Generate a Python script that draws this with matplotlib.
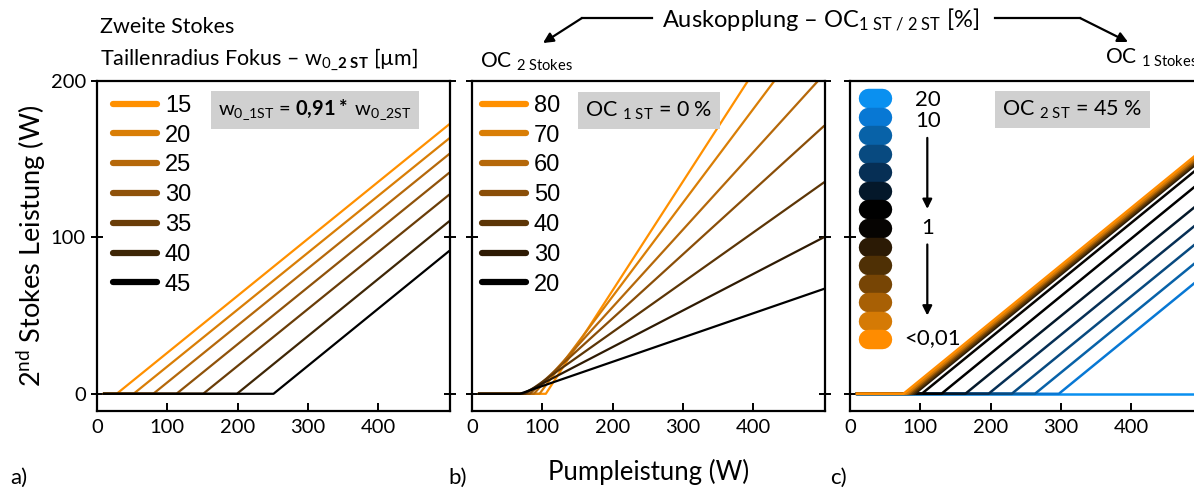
import matplotlib.pyplot as plt
from matplotlib.lines import Line2D
from matplotlib.patches import FancyArrowPatch

plt.rcParams['font.family'] = ['Lato', 'DejaVu Sans']
plt.rcParams['mathtext.fontset'] = 'custom'
plt.rcParams['mathtext.rm'] = 'Lato'
plt.rcParams['mathtext.it'] = 'Lato:italic'
plt.rcParams['mathtext.bf'] = 'Lato:bold'

# a) Taillenradius 2. Stokes [um]
w0_labels = ['15', '20', '25', '30', '35', '40', '45']
w0_colors = ['#ff9000', '#d97e06', '#b5680a', '#8f520a', '#6a3d08', '#3e2606', '#000000']
w0_threshold = [28, 52, 80, 113, 151, 199, 251]
w0_p500 = [172, 163, 153, 141, 127, 110, 91]

# b) OC 2 Stokes [%]
oc2_labels = ['80', '70', '60', '50', '40', '30', '20']
oc2_colors = ['#ff9000', '#d97e06', '#b5680a', '#8a4e08', '#5c3506', '#2e1a03', '#000000']
oc2_threshold = [105, 96, 88, 82, 76, 72, 68]
oc2_p500 = [275, 242, 204, 171, 135, 100, 67]

# c) OC 1 Stokes [%], 20 -> <0,01
oc1_colors = ['#0a90f0', '#0878d4', '#0862a8', '#084a80', '#062f55', '#04182a', '#000000',
              '#060402', '#2b1a05', '#4f3005', '#774505', '#a86005', '#d57a05', '#ff8c00']
oc1_threshold = [500, 297, 263, 230, 197, 164, 130, 102, 92, 89, 86, 83, 80, 76]
oc1_p500 = [0, 74.5, 87, 99, 111, 123, 136, 146, 149.7, 150.8, 151.9, 153, 154.1, 155.6]

x_start = 10

W, H = 1194, 490
fig = plt.figure(figsize=(W / 100, H / 100), dpi=100)


def px(x, y):
    return x / W, 1 - y / H


def make_axes(left_px):
    ax = fig.add_axes([left_px / W, 79 / H, 353 / W, 330 / H])
    ax.set_xlim(0, 502)
    ax.set_ylim(-11, 200)
    ax.set_xticks([0, 100, 200, 300, 400])
    ax.set_yticks([0, 100, 200])
    for s in ax.spines.values():
        s.set_linewidth(1.6)
    ax.tick_params(axis='x', direction='in', length=6, width=1.4, labelsize=14.5, pad=6)
    ax.tick_params(axis='y', direction='inout', length=9, width=1.4, labelsize=14.5, right=True)
    return ax


def style_legend(leg):
    for line in leg.get_lines():
        line.set_linewidth(4.5)
        line.set_solid_capstyle('round')


# ---- a)
ax1 = make_axes(97)
for lab, col, th, p in zip(w0_labels, w0_colors, w0_threshold, w0_p500):
    ax1.plot([x_start, th, 500], [0, 0, p], color=col, lw=1.6, label=lab)
leg = ax1.legend(loc='upper left', bbox_to_anchor=(0.045, 0.958), frameon=False,
                 prop={'family': 'Liberation Sans', 'size': 17}, handlelength=1.85,
                 handletextpad=0.35, labelspacing=0.33, borderaxespad=0, borderpad=0)
style_legend(leg)
ax1.text(0.618, 0.911, r'w$_{\mathregular{0\_1ST}}$ = $\mathbf{0{,}91*}$ w$_{\mathregular{0\_2ST}}$',
         transform=ax1.transAxes, ha='center', va='center', fontsize=14.5,
         bbox=dict(facecolor='#d0d0d0', edgecolor='none', boxstyle='square,pad=0.35'))
ax1.set_ylabel(r'2$^{\mathregular{nd}}$ Stokes Leistung (W)', fontsize=19.5, labelpad=2)

# ---- b)
ax2 = make_axes(472)
for lab, col, th, p in zip(oc2_labels, oc2_colors, oc2_threshold, oc2_p500):
    ax2.plot([x_start, th, 500], [0, 0, p], color=col, lw=1.6, label=lab)
leg = ax2.legend(loc='upper left', bbox_to_anchor=(0.028, 0.958), frameon=False,
                 prop={'family': 'Liberation Sans', 'size': 17}, handlelength=1.85,
                 handletextpad=0.35, labelspacing=0.33, borderaxespad=0, borderpad=0)
style_legend(leg)
ax2.set_yticklabels([])
ax2.text(0.501, 0.911, r'OC $_{\mathregular{1\ ST}}$ = 0 %', transform=ax2.transAxes,
         ha='center', va='center', fontsize=15.5,
         bbox=dict(facecolor='#d0d0d0', edgecolor='none', boxstyle='square,pad=0.35'))
ax2.set_xlabel('Pumpleistung (W)', fontsize=18.5, labelpad=16)

# ---- c)
ax3 = make_axes(850)
for col, th, p in zip(oc1_colors, oc1_threshold, oc1_p500):
    ax3.plot([x_start, th, 500], [0, 0, p], color=col, lw=1.8)
ax3.set_yticklabels([])
# colour key
for i, col in enumerate(oc1_colors):
    yk = 0.948 - i * 0.0562
    ax3.plot([0.052, 0.092], [yk, yk], transform=ax3.transAxes, color=col, lw=14,
             solid_capstyle='round', clip_on=False)
ax3.text(0.222, 0.943, '20', transform=ax3.transAxes, ha='center', va='center', fontsize=16)
ax3.text(0.222, 0.878, '10', transform=ax3.transAxes, ha='center', va='center', fontsize=16)
ax3.text(0.219, 0.556, '1', transform=ax3.transAxes, ha='center', va='center', fontsize=16)
ax3.text(0.235, 0.222, '<0,01', transform=ax3.transAxes, ha='center', va='center', fontsize=16)
for y0, y1 in [(0.836, 0.604), (0.513, 0.281)]:
    ax3.annotate('', xy=(0.219, y1), xytext=(0.219, y0), xycoords='axes fraction',
                 arrowprops=dict(arrowstyle='-|>', color='black', lw=1.6, mutation_scale=14))
ax3.text(0.63, 0.914, r'OC $_{\mathregular{2\ ST}}$ = 45 %', transform=ax3.transAxes,
         ha='center', va='center', fontsize=15.5,
         bbox=dict(facecolor='#d0d0d0', edgecolor='none', boxstyle='square,pad=0.35'))

# ---- headings
fig.text(*px(100, 27), 'Zweite Stokes', fontsize=15.5, va='center')
fig.text(*px(100, 59), r'Taillenradius Fokus – w$_{\mathregular{0\_}\mathbf{2\ ST}}$ [µm]',
         fontsize=15.5, va='center')
fig.text(*px(662, 20), r'Auskopplung – OC$_{\mathregular{1\ ST\ /\ 2\ ST}}$ [%]', fontsize=17,
         va='center')
fig.text(*px(480, 62), r'OC $_{\mathregular{2\ Stokes}}$', fontsize=15, va='center')
fig.text(*px(1105, 58), r'OC $_{\mathregular{1\ Stokes}}$', fontsize=15, va='center')

fig.add_artist(Line2D([652 / W, 582 / W], [1 - 18 / H, 1 - 18 / H], color='black', lw=1.6))
fig.add_artist(FancyArrowPatch(px(582, 18), px(543, 43), transform=fig.transFigure,
                               arrowstyle='-|>', mutation_scale=15, color='black', lw=1.6,
                               shrinkA=0, shrinkB=0))
fig.add_artist(Line2D([995 / W, 1080 / W], [1 - 18 / H, 1 - 18 / H], color='black', lw=1.6))
fig.add_artist(FancyArrowPatch(px(1080, 18), px(1128, 42), transform=fig.transFigure,
                               arrowstyle='-|>', mutation_scale=15, color='black', lw=1.6,
                               shrinkA=0, shrinkB=0))

fig.text(*px(10, 478), 'a)', fontsize=16, va='center')
fig.text(*px(448, 478), 'b)', fontsize=16, va='center')
fig.text(*px(830, 478), 'c)', fontsize=16, va='center')

fig.savefig('out.png', dpi=100)
